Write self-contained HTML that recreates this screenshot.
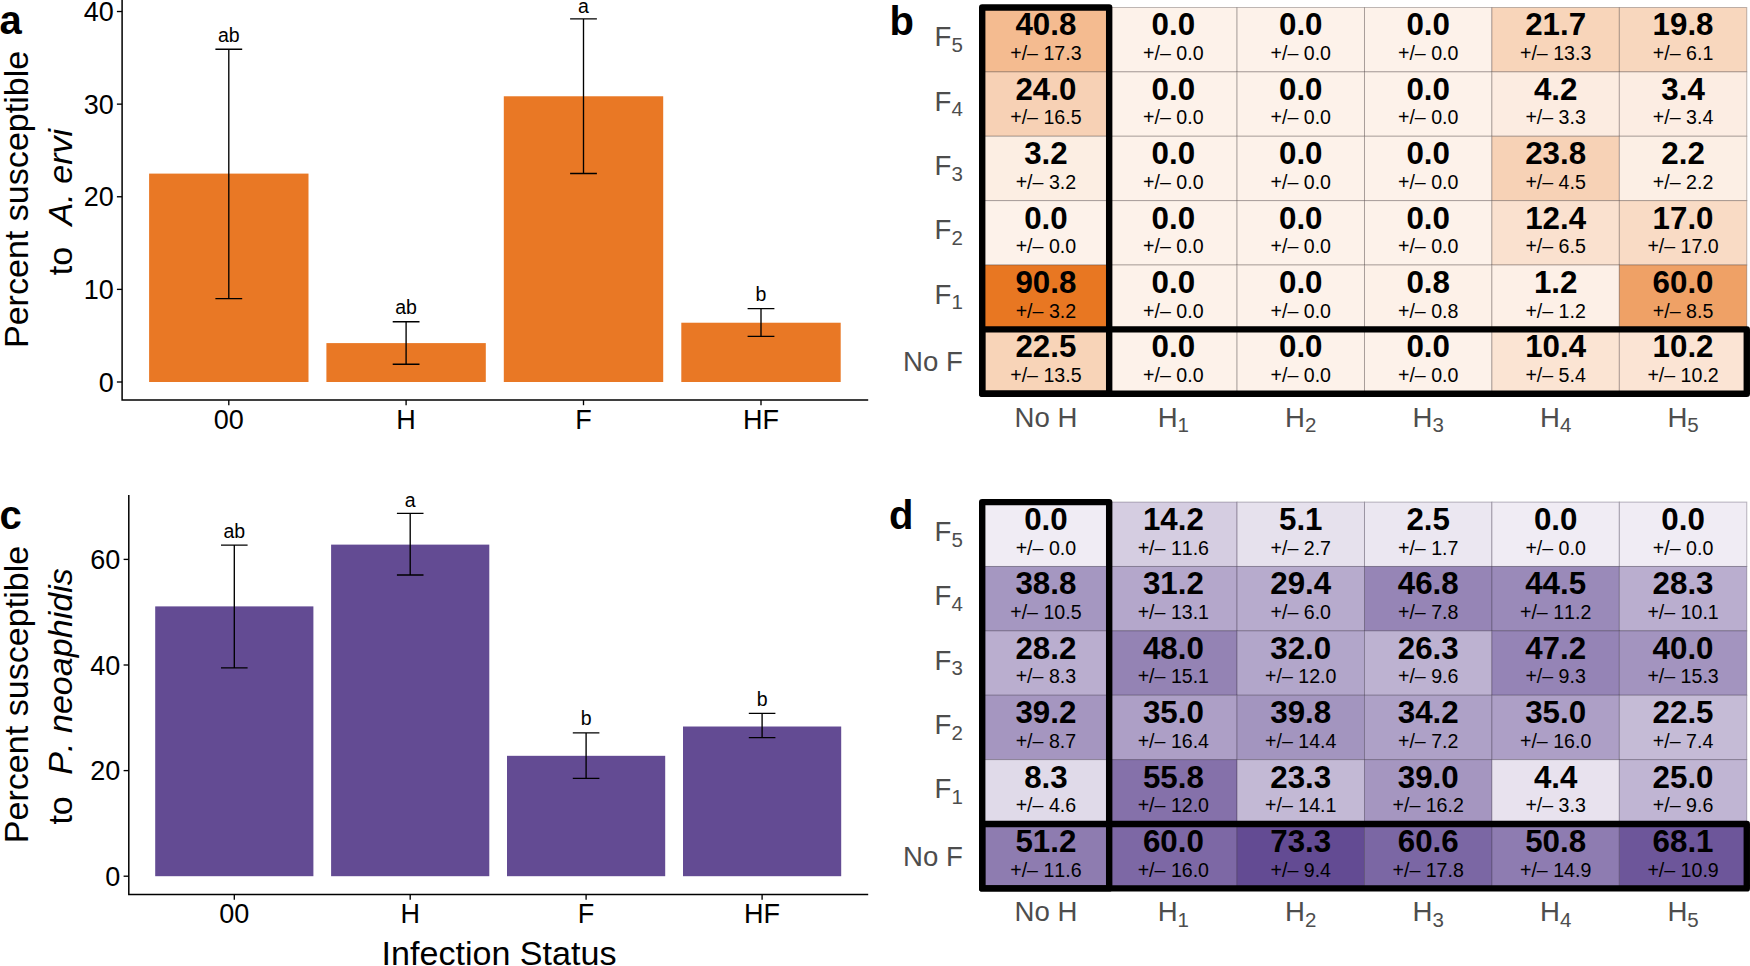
<!DOCTYPE html>
<html><head><meta charset="utf-8"><title>Figure</title>
<style>html,body{margin:0;padding:0;background:#fff;overflow:hidden}svg{display:block}text{font-family:"Liberation Sans", sans-serif;font-kerning:none}</style>
</head><body>
<svg width="1750" height="966" viewBox="0 0 1750 966">
<rect width="1750" height="966" fill="#fff"/>
<rect x="149.10" y="173.60" width="159.40" height="208.40" fill="#e97825"/>
<rect x="326.40" y="343.10" width="159.40" height="38.90" fill="#e97825"/>
<rect x="503.80" y="96.27" width="159.40" height="285.73" fill="#e97825"/>
<rect x="681.30" y="322.72" width="159.40" height="59.28" fill="#e97825"/>
<path d="M215.40 49.20H242.20M215.40 298.60H242.20M228.80 49.20V298.60" stroke="#000" stroke-width="1.35" fill="none"/>
<text x="228.80" y="41.80" font-size="19.5" text-anchor="middle">ab</text>
<path d="M392.70 321.70H419.50M392.70 364.20H419.50M406.10 321.70V364.20" stroke="#000" stroke-width="1.35" fill="none"/>
<text x="406.10" y="314.30" font-size="19.5" text-anchor="middle">ab</text>
<path d="M570.10 18.90H596.90M570.10 173.50H596.90M583.50 18.90V173.50" stroke="#000" stroke-width="1.35" fill="none"/>
<text x="583.50" y="12.50" font-size="19.5" text-anchor="middle">a</text>
<path d="M747.60 308.60H774.40M747.60 336.30H774.40M761.00 308.60V336.30" stroke="#000" stroke-width="1.35" fill="none"/>
<text x="761.00" y="301.20" font-size="19.5" text-anchor="middle">b</text>
<path d="M122.1 0V400.0H868.2" stroke="#000" stroke-width="1.5" fill="none"/>
<path d="M116.90 382.00H122.1" stroke="#000" stroke-width="1.35"/>
<text x="113.70" y="391.70" font-size="27" text-anchor="end">0</text>
<path d="M116.90 289.38H122.1" stroke="#000" stroke-width="1.35"/>
<text x="113.70" y="299.08" font-size="27" text-anchor="end">10</text>
<path d="M116.90 196.76H122.1" stroke="#000" stroke-width="1.35"/>
<text x="113.70" y="206.46" font-size="27" text-anchor="end">20</text>
<path d="M116.90 104.14H122.1" stroke="#000" stroke-width="1.35"/>
<text x="113.70" y="113.84" font-size="27" text-anchor="end">30</text>
<path d="M116.90 11.52H122.1" stroke="#000" stroke-width="1.35"/>
<text x="113.70" y="21.22" font-size="27" text-anchor="end">40</text>
<path d="M228.80 400.0V405.20" stroke="#000" stroke-width="1.35"/>
<text x="228.80" y="428.90" font-size="27" text-anchor="middle">00</text>
<path d="M406.10 400.0V405.20" stroke="#000" stroke-width="1.35"/>
<text x="406.10" y="428.90" font-size="27" text-anchor="middle">H</text>
<path d="M583.50 400.0V405.20" stroke="#000" stroke-width="1.35"/>
<text x="583.50" y="428.90" font-size="27" text-anchor="middle">F</text>
<path d="M761.00 400.0V405.20" stroke="#000" stroke-width="1.35"/>
<text x="761.00" y="428.90" font-size="27" text-anchor="middle">HF</text>
<rect x="155.20" y="606.39" width="158.20" height="269.81" fill="#634b93"/>
<rect x="331.10" y="544.62" width="158.20" height="331.58" fill="#634b93"/>
<rect x="507.00" y="755.82" width="158.20" height="120.38" fill="#634b93"/>
<rect x="683.00" y="726.51" width="158.20" height="149.69" fill="#634b93"/>
<path d="M221.00 545.10H247.60M221.00 667.80H247.60M234.30 545.10V667.80" stroke="#000" stroke-width="1.35" fill="none"/>
<text x="234.30" y="537.70" font-size="19.5" text-anchor="middle">ab</text>
<path d="M396.90 513.40H423.50M396.90 575.00H423.50M410.20 513.40V575.00" stroke="#000" stroke-width="1.35" fill="none"/>
<text x="410.20" y="507.00" font-size="19.5" text-anchor="middle">a</text>
<path d="M572.80 732.80H599.40M572.80 778.30H599.40M586.10 732.80V778.30" stroke="#000" stroke-width="1.35" fill="none"/>
<text x="586.10" y="725.40" font-size="19.5" text-anchor="middle">b</text>
<path d="M748.80 713.30H775.40M748.80 737.60H775.40M762.10 713.30V737.60" stroke="#000" stroke-width="1.35" fill="none"/>
<text x="762.10" y="705.90" font-size="19.5" text-anchor="middle">b</text>
<path d="M128.8 495V894.5H868.2" stroke="#000" stroke-width="1.5" fill="none"/>
<path d="M123.60 876.20H128.8" stroke="#000" stroke-width="1.35"/>
<text x="120.40" y="885.90" font-size="27" text-anchor="end">0</text>
<path d="M123.60 770.60H128.8" stroke="#000" stroke-width="1.35"/>
<text x="120.40" y="780.30" font-size="27" text-anchor="end">20</text>
<path d="M123.60 665.00H128.8" stroke="#000" stroke-width="1.35"/>
<text x="120.40" y="674.70" font-size="27" text-anchor="end">40</text>
<path d="M123.60 559.40H128.8" stroke="#000" stroke-width="1.35"/>
<text x="120.40" y="569.10" font-size="27" text-anchor="end">60</text>
<path d="M234.30 894.5V899.70" stroke="#000" stroke-width="1.35"/>
<text x="234.30" y="923.40" font-size="27" text-anchor="middle">00</text>
<path d="M410.20 894.5V899.70" stroke="#000" stroke-width="1.35"/>
<text x="410.20" y="923.40" font-size="27" text-anchor="middle">H</text>
<path d="M586.10 894.5V899.70" stroke="#000" stroke-width="1.35"/>
<text x="586.10" y="923.40" font-size="27" text-anchor="middle">F</text>
<path d="M762.10 894.5V899.70" stroke="#000" stroke-width="1.35"/>
<text x="762.10" y="923.40" font-size="27" text-anchor="middle">HF</text>
<text transform="translate(27.5 199.4) rotate(-90)" font-size="34.1" text-anchor="middle">Percent susceptible</text>
<text transform="translate(72.4 275.3) rotate(-90)" font-size="34.1" xml:space="preserve">to  <tspan font-style="italic" dx="2.5">A. ervi</tspan></text>
<text transform="translate(27.5 694.5) rotate(-90)" font-size="34.1" text-anchor="middle">Percent susceptible</text>
<text transform="translate(72.4 824.6) rotate(-90)" font-size="34.1" xml:space="preserve">to  <tspan font-style="italic" dx="2.5">P. neoaphidis</tspan></text>
<text x="499" y="965.2" font-size="34.1" text-anchor="middle">Infection Status</text>
<text x="-0.5" y="34.2" font-size="40" font-weight="bold">a</text>
<text x="889.5" y="34.7" font-size="40" font-weight="bold">b</text>
<text x="-0.5" y="529.2" font-size="40" font-weight="bold">c</text>
<text x="889" y="529.2" font-size="40" font-weight="bold">d</text>
<rect x="982.20" y="7.50" width="127.43" height="64.38" fill="#f4bb90" stroke="rgba(60,50,50,0.33)" stroke-width="1"/>
<rect x="1109.63" y="7.50" width="127.43" height="64.38" fill="#fdf2ea" stroke="rgba(60,50,50,0.33)" stroke-width="1"/>
<rect x="1237.06" y="7.50" width="127.43" height="64.38" fill="#fdf2ea" stroke="rgba(60,50,50,0.33)" stroke-width="1"/>
<rect x="1364.49" y="7.50" width="127.43" height="64.38" fill="#fdf2ea" stroke="rgba(60,50,50,0.33)" stroke-width="1"/>
<rect x="1491.92" y="7.50" width="127.43" height="64.38" fill="#f8d5ba" stroke="rgba(60,50,50,0.33)" stroke-width="1"/>
<rect x="1619.35" y="7.50" width="127.43" height="64.38" fill="#f8d7be" stroke="rgba(60,50,50,0.33)" stroke-width="1"/>
<rect x="982.20" y="71.88" width="127.43" height="64.38" fill="#f7d1b5" stroke="rgba(60,50,50,0.33)" stroke-width="1"/>
<rect x="1109.63" y="71.88" width="127.43" height="64.38" fill="#fdf2ea" stroke="rgba(60,50,50,0.33)" stroke-width="1"/>
<rect x="1237.06" y="71.88" width="127.43" height="64.38" fill="#fdf2ea" stroke="rgba(60,50,50,0.33)" stroke-width="1"/>
<rect x="1364.49" y="71.88" width="127.43" height="64.38" fill="#fdf2ea" stroke="rgba(60,50,50,0.33)" stroke-width="1"/>
<rect x="1491.92" y="71.88" width="127.43" height="64.38" fill="#fcece1" stroke="rgba(60,50,50,0.33)" stroke-width="1"/>
<rect x="1619.35" y="71.88" width="127.43" height="64.38" fill="#fcede3" stroke="rgba(60,50,50,0.33)" stroke-width="1"/>
<rect x="982.20" y="136.26" width="127.43" height="64.38" fill="#fceee3" stroke="rgba(60,50,50,0.33)" stroke-width="1"/>
<rect x="1109.63" y="136.26" width="127.43" height="64.38" fill="#fdf2ea" stroke="rgba(60,50,50,0.33)" stroke-width="1"/>
<rect x="1237.06" y="136.26" width="127.43" height="64.38" fill="#fdf2ea" stroke="rgba(60,50,50,0.33)" stroke-width="1"/>
<rect x="1364.49" y="136.26" width="127.43" height="64.38" fill="#fdf2ea" stroke="rgba(60,50,50,0.33)" stroke-width="1"/>
<rect x="1491.92" y="136.26" width="127.43" height="64.38" fill="#f7d2b6" stroke="rgba(60,50,50,0.33)" stroke-width="1"/>
<rect x="1619.35" y="136.26" width="127.43" height="64.38" fill="#fcefe5" stroke="rgba(60,50,50,0.33)" stroke-width="1"/>
<rect x="982.20" y="200.64" width="127.43" height="64.38" fill="#fdf2ea" stroke="rgba(60,50,50,0.33)" stroke-width="1"/>
<rect x="1109.63" y="200.64" width="127.43" height="64.38" fill="#fdf2ea" stroke="rgba(60,50,50,0.33)" stroke-width="1"/>
<rect x="1237.06" y="200.64" width="127.43" height="64.38" fill="#fdf2ea" stroke="rgba(60,50,50,0.33)" stroke-width="1"/>
<rect x="1364.49" y="200.64" width="127.43" height="64.38" fill="#fdf2ea" stroke="rgba(60,50,50,0.33)" stroke-width="1"/>
<rect x="1491.92" y="200.64" width="127.43" height="64.38" fill="#fae1cf" stroke="rgba(60,50,50,0.33)" stroke-width="1"/>
<rect x="1619.35" y="200.64" width="127.43" height="64.38" fill="#f9dbc5" stroke="rgba(60,50,50,0.33)" stroke-width="1"/>
<rect x="982.20" y="265.02" width="127.43" height="64.38" fill="#e87722" stroke="rgba(60,50,50,0.33)" stroke-width="1"/>
<rect x="1109.63" y="265.02" width="127.43" height="64.38" fill="#fdf2ea" stroke="rgba(60,50,50,0.33)" stroke-width="1"/>
<rect x="1237.06" y="265.02" width="127.43" height="64.38" fill="#fdf2ea" stroke="rgba(60,50,50,0.33)" stroke-width="1"/>
<rect x="1364.49" y="265.02" width="127.43" height="64.38" fill="#fdf1e8" stroke="rgba(60,50,50,0.33)" stroke-width="1"/>
<rect x="1491.92" y="265.02" width="127.43" height="64.38" fill="#fdf0e7" stroke="rgba(60,50,50,0.33)" stroke-width="1"/>
<rect x="1619.35" y="265.02" width="127.43" height="64.38" fill="#efa166" stroke="rgba(60,50,50,0.33)" stroke-width="1"/>
<rect x="982.20" y="329.40" width="127.43" height="64.38" fill="#f8d4b8" stroke="rgba(60,50,50,0.33)" stroke-width="1"/>
<rect x="1109.63" y="329.40" width="127.43" height="64.38" fill="#fdf2ea" stroke="rgba(60,50,50,0.33)" stroke-width="1"/>
<rect x="1237.06" y="329.40" width="127.43" height="64.38" fill="#fdf2ea" stroke="rgba(60,50,50,0.33)" stroke-width="1"/>
<rect x="1364.49" y="329.40" width="127.43" height="64.38" fill="#fdf2ea" stroke="rgba(60,50,50,0.33)" stroke-width="1"/>
<rect x="1491.92" y="329.40" width="127.43" height="64.38" fill="#fbe4d3" stroke="rgba(60,50,50,0.33)" stroke-width="1"/>
<rect x="1619.35" y="329.40" width="127.43" height="64.38" fill="#fbe4d4" stroke="rgba(60,50,50,0.33)" stroke-width="1"/>
<text x="1045.91" y="35.40" font-size="31.3" font-weight="bold" text-anchor="middle">40.8</text>
<text x="1045.91" y="60.00" font-size="19.6" text-anchor="middle">+/– 17.3</text>
<text x="1173.35" y="35.40" font-size="31.3" font-weight="bold" text-anchor="middle">0.0</text>
<text x="1173.35" y="60.00" font-size="19.6" text-anchor="middle">+/– 0.0</text>
<text x="1300.78" y="35.40" font-size="31.3" font-weight="bold" text-anchor="middle">0.0</text>
<text x="1300.78" y="60.00" font-size="19.6" text-anchor="middle">+/– 0.0</text>
<text x="1428.20" y="35.40" font-size="31.3" font-weight="bold" text-anchor="middle">0.0</text>
<text x="1428.20" y="60.00" font-size="19.6" text-anchor="middle">+/– 0.0</text>
<text x="1555.64" y="35.40" font-size="31.3" font-weight="bold" text-anchor="middle">21.7</text>
<text x="1555.64" y="60.00" font-size="19.6" text-anchor="middle">+/– 13.3</text>
<text x="1683.07" y="35.40" font-size="31.3" font-weight="bold" text-anchor="middle">19.8</text>
<text x="1683.07" y="60.00" font-size="19.6" text-anchor="middle">+/– 6.1</text>
<text x="1045.91" y="99.78" font-size="31.3" font-weight="bold" text-anchor="middle">24.0</text>
<text x="1045.91" y="124.38" font-size="19.6" text-anchor="middle">+/– 16.5</text>
<text x="1173.35" y="99.78" font-size="31.3" font-weight="bold" text-anchor="middle">0.0</text>
<text x="1173.35" y="124.38" font-size="19.6" text-anchor="middle">+/– 0.0</text>
<text x="1300.78" y="99.78" font-size="31.3" font-weight="bold" text-anchor="middle">0.0</text>
<text x="1300.78" y="124.38" font-size="19.6" text-anchor="middle">+/– 0.0</text>
<text x="1428.20" y="99.78" font-size="31.3" font-weight="bold" text-anchor="middle">0.0</text>
<text x="1428.20" y="124.38" font-size="19.6" text-anchor="middle">+/– 0.0</text>
<text x="1555.64" y="99.78" font-size="31.3" font-weight="bold" text-anchor="middle">4.2</text>
<text x="1555.64" y="124.38" font-size="19.6" text-anchor="middle">+/– 3.3</text>
<text x="1683.07" y="99.78" font-size="31.3" font-weight="bold" text-anchor="middle">3.4</text>
<text x="1683.07" y="124.38" font-size="19.6" text-anchor="middle">+/– 3.4</text>
<text x="1045.91" y="164.16" font-size="31.3" font-weight="bold" text-anchor="middle">3.2</text>
<text x="1045.91" y="188.76" font-size="19.6" text-anchor="middle">+/– 3.2</text>
<text x="1173.35" y="164.16" font-size="31.3" font-weight="bold" text-anchor="middle">0.0</text>
<text x="1173.35" y="188.76" font-size="19.6" text-anchor="middle">+/– 0.0</text>
<text x="1300.78" y="164.16" font-size="31.3" font-weight="bold" text-anchor="middle">0.0</text>
<text x="1300.78" y="188.76" font-size="19.6" text-anchor="middle">+/– 0.0</text>
<text x="1428.20" y="164.16" font-size="31.3" font-weight="bold" text-anchor="middle">0.0</text>
<text x="1428.20" y="188.76" font-size="19.6" text-anchor="middle">+/– 0.0</text>
<text x="1555.64" y="164.16" font-size="31.3" font-weight="bold" text-anchor="middle">23.8</text>
<text x="1555.64" y="188.76" font-size="19.6" text-anchor="middle">+/– 4.5</text>
<text x="1683.07" y="164.16" font-size="31.3" font-weight="bold" text-anchor="middle">2.2</text>
<text x="1683.07" y="188.76" font-size="19.6" text-anchor="middle">+/– 2.2</text>
<text x="1045.91" y="228.54" font-size="31.3" font-weight="bold" text-anchor="middle">0.0</text>
<text x="1045.91" y="253.14" font-size="19.6" text-anchor="middle">+/– 0.0</text>
<text x="1173.35" y="228.54" font-size="31.3" font-weight="bold" text-anchor="middle">0.0</text>
<text x="1173.35" y="253.14" font-size="19.6" text-anchor="middle">+/– 0.0</text>
<text x="1300.78" y="228.54" font-size="31.3" font-weight="bold" text-anchor="middle">0.0</text>
<text x="1300.78" y="253.14" font-size="19.6" text-anchor="middle">+/– 0.0</text>
<text x="1428.20" y="228.54" font-size="31.3" font-weight="bold" text-anchor="middle">0.0</text>
<text x="1428.20" y="253.14" font-size="19.6" text-anchor="middle">+/– 0.0</text>
<text x="1555.64" y="228.54" font-size="31.3" font-weight="bold" text-anchor="middle">12.4</text>
<text x="1555.64" y="253.14" font-size="19.6" text-anchor="middle">+/– 6.5</text>
<text x="1683.07" y="228.54" font-size="31.3" font-weight="bold" text-anchor="middle">17.0</text>
<text x="1683.07" y="253.14" font-size="19.6" text-anchor="middle">+/– 17.0</text>
<text x="1045.91" y="292.92" font-size="31.3" font-weight="bold" text-anchor="middle">90.8</text>
<text x="1045.91" y="317.52" font-size="19.6" text-anchor="middle">+/– 3.2</text>
<text x="1173.35" y="292.92" font-size="31.3" font-weight="bold" text-anchor="middle">0.0</text>
<text x="1173.35" y="317.52" font-size="19.6" text-anchor="middle">+/– 0.0</text>
<text x="1300.78" y="292.92" font-size="31.3" font-weight="bold" text-anchor="middle">0.0</text>
<text x="1300.78" y="317.52" font-size="19.6" text-anchor="middle">+/– 0.0</text>
<text x="1428.20" y="292.92" font-size="31.3" font-weight="bold" text-anchor="middle">0.8</text>
<text x="1428.20" y="317.52" font-size="19.6" text-anchor="middle">+/– 0.8</text>
<text x="1555.64" y="292.92" font-size="31.3" font-weight="bold" text-anchor="middle">1.2</text>
<text x="1555.64" y="317.52" font-size="19.6" text-anchor="middle">+/– 1.2</text>
<text x="1683.07" y="292.92" font-size="31.3" font-weight="bold" text-anchor="middle">60.0</text>
<text x="1683.07" y="317.52" font-size="19.6" text-anchor="middle">+/– 8.5</text>
<text x="1045.91" y="357.30" font-size="31.3" font-weight="bold" text-anchor="middle">22.5</text>
<text x="1045.91" y="381.90" font-size="19.6" text-anchor="middle">+/– 13.5</text>
<text x="1173.35" y="357.30" font-size="31.3" font-weight="bold" text-anchor="middle">0.0</text>
<text x="1173.35" y="381.90" font-size="19.6" text-anchor="middle">+/– 0.0</text>
<text x="1300.78" y="357.30" font-size="31.3" font-weight="bold" text-anchor="middle">0.0</text>
<text x="1300.78" y="381.90" font-size="19.6" text-anchor="middle">+/– 0.0</text>
<text x="1428.20" y="357.30" font-size="31.3" font-weight="bold" text-anchor="middle">0.0</text>
<text x="1428.20" y="381.90" font-size="19.6" text-anchor="middle">+/– 0.0</text>
<text x="1555.64" y="357.30" font-size="31.3" font-weight="bold" text-anchor="middle">10.4</text>
<text x="1555.64" y="381.90" font-size="19.6" text-anchor="middle">+/– 5.4</text>
<text x="1683.07" y="357.30" font-size="31.3" font-weight="bold" text-anchor="middle">10.2</text>
<text x="1683.07" y="381.90" font-size="19.6" text-anchor="middle">+/– 10.2</text>
<rect x="982.20" y="7.50" width="126.98" height="386.28" fill="none" stroke="#000" stroke-width="6.4" stroke-linejoin="round"/>
<rect x="982.20" y="329.40" width="764.58" height="64.38" fill="none" stroke="#000" stroke-width="6.4" stroke-linejoin="round"/>
<text x="962.8" y="46.30" font-size="27.6" fill="#4d4d4d" text-anchor="end">F<tspan font-size="20.5" dy="5.6">5</tspan></text>
<text x="962.8" y="110.68" font-size="27.6" fill="#4d4d4d" text-anchor="end">F<tspan font-size="20.5" dy="5.6">4</tspan></text>
<text x="962.8" y="175.06" font-size="27.6" fill="#4d4d4d" text-anchor="end">F<tspan font-size="20.5" dy="5.6">3</tspan></text>
<text x="962.8" y="239.44" font-size="27.6" fill="#4d4d4d" text-anchor="end">F<tspan font-size="20.5" dy="5.6">2</tspan></text>
<text x="962.8" y="303.82" font-size="27.6" fill="#4d4d4d" text-anchor="end">F<tspan font-size="20.5" dy="5.6">1</tspan></text>
<text x="962.8" y="371.40" font-size="27.6" fill="#4d4d4d" text-anchor="end">No F</text>
<text x="1045.91" y="426.78" font-size="27.6" fill="#4d4d4d" text-anchor="middle">No H</text>
<text x="1173.35" y="426.78" font-size="27.6" fill="#4d4d4d" text-anchor="middle">H<tspan font-size="20.5" dy="5.6">1</tspan></text>
<text x="1300.78" y="426.78" font-size="27.6" fill="#4d4d4d" text-anchor="middle">H<tspan font-size="20.5" dy="5.6">2</tspan></text>
<text x="1428.20" y="426.78" font-size="27.6" fill="#4d4d4d" text-anchor="middle">H<tspan font-size="20.5" dy="5.6">3</tspan></text>
<text x="1555.64" y="426.78" font-size="27.6" fill="#4d4d4d" text-anchor="middle">H<tspan font-size="20.5" dy="5.6">4</tspan></text>
<text x="1683.07" y="426.78" font-size="27.6" fill="#4d4d4d" text-anchor="middle">H<tspan font-size="20.5" dy="5.6">5</tspan></text>
<rect x="982.20" y="502.10" width="127.43" height="64.38" fill="#f0ecf4" stroke="rgba(50,40,60,0.33)" stroke-width="1"/>
<rect x="1109.63" y="502.10" width="127.43" height="64.38" fill="#d5cde1" stroke="rgba(50,40,60,0.33)" stroke-width="1"/>
<rect x="1237.06" y="502.10" width="127.43" height="64.38" fill="#e6e1ed" stroke="rgba(50,40,60,0.33)" stroke-width="1"/>
<rect x="1364.49" y="502.10" width="127.43" height="64.38" fill="#ebe7f1" stroke="rgba(50,40,60,0.33)" stroke-width="1"/>
<rect x="1491.92" y="502.10" width="127.43" height="64.38" fill="#f0ecf4" stroke="rgba(50,40,60,0.33)" stroke-width="1"/>
<rect x="1619.35" y="502.10" width="127.43" height="64.38" fill="#f0ecf4" stroke="rgba(50,40,60,0.33)" stroke-width="1"/>
<rect x="982.20" y="566.48" width="127.43" height="64.38" fill="#a597c1" stroke="rgba(50,40,60,0.33)" stroke-width="1"/>
<rect x="1109.63" y="566.48" width="127.43" height="64.38" fill="#b4a7cb" stroke="rgba(50,40,60,0.33)" stroke-width="1"/>
<rect x="1237.06" y="566.48" width="127.43" height="64.38" fill="#b7abcd" stroke="rgba(50,40,60,0.33)" stroke-width="1"/>
<rect x="1364.49" y="566.48" width="127.43" height="64.38" fill="#9685b6" stroke="rgba(50,40,60,0.33)" stroke-width="1"/>
<rect x="1491.92" y="566.48" width="127.43" height="64.38" fill="#9a8ab9" stroke="rgba(50,40,60,0.33)" stroke-width="1"/>
<rect x="1619.35" y="566.48" width="127.43" height="64.38" fill="#baaecf" stroke="rgba(50,40,60,0.33)" stroke-width="1"/>
<rect x="982.20" y="630.86" width="127.43" height="64.38" fill="#baaecf" stroke="rgba(50,40,60,0.33)" stroke-width="1"/>
<rect x="1109.63" y="630.86" width="127.43" height="64.38" fill="#9483b4" stroke="rgba(50,40,60,0.33)" stroke-width="1"/>
<rect x="1237.06" y="630.86" width="127.43" height="64.38" fill="#b2a6ca" stroke="rgba(50,40,60,0.33)" stroke-width="1"/>
<rect x="1364.49" y="630.86" width="127.43" height="64.38" fill="#bdb2d1" stroke="rgba(50,40,60,0.33)" stroke-width="1"/>
<rect x="1491.92" y="630.86" width="127.43" height="64.38" fill="#9584b6" stroke="rgba(50,40,60,0.33)" stroke-width="1"/>
<rect x="1619.35" y="630.86" width="127.43" height="64.38" fill="#a394bf" stroke="rgba(50,40,60,0.33)" stroke-width="1"/>
<rect x="982.20" y="695.24" width="127.43" height="64.38" fill="#a596c0" stroke="rgba(50,40,60,0.33)" stroke-width="1"/>
<rect x="1109.63" y="695.24" width="127.43" height="64.38" fill="#ad9fc6" stroke="rgba(50,40,60,0.33)" stroke-width="1"/>
<rect x="1237.06" y="695.24" width="127.43" height="64.38" fill="#a395bf" stroke="rgba(50,40,60,0.33)" stroke-width="1"/>
<rect x="1364.49" y="695.24" width="127.43" height="64.38" fill="#aea1c7" stroke="rgba(50,40,60,0.33)" stroke-width="1"/>
<rect x="1491.92" y="695.24" width="127.43" height="64.38" fill="#ad9fc6" stroke="rgba(50,40,60,0.33)" stroke-width="1"/>
<rect x="1619.35" y="695.24" width="127.43" height="64.38" fill="#c5bbd6" stroke="rgba(50,40,60,0.33)" stroke-width="1"/>
<rect x="982.20" y="759.62" width="127.43" height="64.38" fill="#e0dae9" stroke="rgba(50,40,60,0.33)" stroke-width="1"/>
<rect x="1109.63" y="759.62" width="127.43" height="64.38" fill="#8571aa" stroke="rgba(50,40,60,0.33)" stroke-width="1"/>
<rect x="1237.06" y="759.62" width="127.43" height="64.38" fill="#c3b9d5" stroke="rgba(50,40,60,0.33)" stroke-width="1"/>
<rect x="1364.49" y="759.62" width="127.43" height="64.38" fill="#a596c0" stroke="rgba(50,40,60,0.33)" stroke-width="1"/>
<rect x="1491.92" y="759.62" width="127.43" height="64.38" fill="#e8e2ee" stroke="rgba(50,40,60,0.33)" stroke-width="1"/>
<rect x="1619.35" y="759.62" width="127.43" height="64.38" fill="#c0b5d3" stroke="rgba(50,40,60,0.33)" stroke-width="1"/>
<rect x="982.20" y="824.00" width="127.43" height="64.38" fill="#8e7cb0" stroke="rgba(50,40,60,0.33)" stroke-width="1"/>
<rect x="1109.63" y="824.00" width="127.43" height="64.38" fill="#7d68a5" stroke="rgba(50,40,60,0.33)" stroke-width="1"/>
<rect x="1237.06" y="824.00" width="127.43" height="64.38" fill="#634b93" stroke="rgba(50,40,60,0.33)" stroke-width="1"/>
<rect x="1364.49" y="824.00" width="127.43" height="64.38" fill="#7b67a4" stroke="rgba(50,40,60,0.33)" stroke-width="1"/>
<rect x="1491.92" y="824.00" width="127.43" height="64.38" fill="#8e7cb1" stroke="rgba(50,40,60,0.33)" stroke-width="1"/>
<rect x="1619.35" y="824.00" width="127.43" height="64.38" fill="#6d569a" stroke="rgba(50,40,60,0.33)" stroke-width="1"/>
<text x="1045.91" y="530.00" font-size="31.3" font-weight="bold" text-anchor="middle">0.0</text>
<text x="1045.91" y="554.60" font-size="19.6" text-anchor="middle">+/– 0.0</text>
<text x="1173.35" y="530.00" font-size="31.3" font-weight="bold" text-anchor="middle">14.2</text>
<text x="1173.35" y="554.60" font-size="19.6" text-anchor="middle">+/– 11.6</text>
<text x="1300.78" y="530.00" font-size="31.3" font-weight="bold" text-anchor="middle">5.1</text>
<text x="1300.78" y="554.60" font-size="19.6" text-anchor="middle">+/– 2.7</text>
<text x="1428.20" y="530.00" font-size="31.3" font-weight="bold" text-anchor="middle">2.5</text>
<text x="1428.20" y="554.60" font-size="19.6" text-anchor="middle">+/– 1.7</text>
<text x="1555.64" y="530.00" font-size="31.3" font-weight="bold" text-anchor="middle">0.0</text>
<text x="1555.64" y="554.60" font-size="19.6" text-anchor="middle">+/– 0.0</text>
<text x="1683.07" y="530.00" font-size="31.3" font-weight="bold" text-anchor="middle">0.0</text>
<text x="1683.07" y="554.60" font-size="19.6" text-anchor="middle">+/– 0.0</text>
<text x="1045.91" y="594.38" font-size="31.3" font-weight="bold" text-anchor="middle">38.8</text>
<text x="1045.91" y="618.98" font-size="19.6" text-anchor="middle">+/– 10.5</text>
<text x="1173.35" y="594.38" font-size="31.3" font-weight="bold" text-anchor="middle">31.2</text>
<text x="1173.35" y="618.98" font-size="19.6" text-anchor="middle">+/– 13.1</text>
<text x="1300.78" y="594.38" font-size="31.3" font-weight="bold" text-anchor="middle">29.4</text>
<text x="1300.78" y="618.98" font-size="19.6" text-anchor="middle">+/– 6.0</text>
<text x="1428.20" y="594.38" font-size="31.3" font-weight="bold" text-anchor="middle">46.8</text>
<text x="1428.20" y="618.98" font-size="19.6" text-anchor="middle">+/– 7.8</text>
<text x="1555.64" y="594.38" font-size="31.3" font-weight="bold" text-anchor="middle">44.5</text>
<text x="1555.64" y="618.98" font-size="19.6" text-anchor="middle">+/– 11.2</text>
<text x="1683.07" y="594.38" font-size="31.3" font-weight="bold" text-anchor="middle">28.3</text>
<text x="1683.07" y="618.98" font-size="19.6" text-anchor="middle">+/– 10.1</text>
<text x="1045.91" y="658.76" font-size="31.3" font-weight="bold" text-anchor="middle">28.2</text>
<text x="1045.91" y="683.36" font-size="19.6" text-anchor="middle">+/– 8.3</text>
<text x="1173.35" y="658.76" font-size="31.3" font-weight="bold" text-anchor="middle">48.0</text>
<text x="1173.35" y="683.36" font-size="19.6" text-anchor="middle">+/– 15.1</text>
<text x="1300.78" y="658.76" font-size="31.3" font-weight="bold" text-anchor="middle">32.0</text>
<text x="1300.78" y="683.36" font-size="19.6" text-anchor="middle">+/– 12.0</text>
<text x="1428.20" y="658.76" font-size="31.3" font-weight="bold" text-anchor="middle">26.3</text>
<text x="1428.20" y="683.36" font-size="19.6" text-anchor="middle">+/– 9.6</text>
<text x="1555.64" y="658.76" font-size="31.3" font-weight="bold" text-anchor="middle">47.2</text>
<text x="1555.64" y="683.36" font-size="19.6" text-anchor="middle">+/– 9.3</text>
<text x="1683.07" y="658.76" font-size="31.3" font-weight="bold" text-anchor="middle">40.0</text>
<text x="1683.07" y="683.36" font-size="19.6" text-anchor="middle">+/– 15.3</text>
<text x="1045.91" y="723.14" font-size="31.3" font-weight="bold" text-anchor="middle">39.2</text>
<text x="1045.91" y="747.74" font-size="19.6" text-anchor="middle">+/– 8.7</text>
<text x="1173.35" y="723.14" font-size="31.3" font-weight="bold" text-anchor="middle">35.0</text>
<text x="1173.35" y="747.74" font-size="19.6" text-anchor="middle">+/– 16.4</text>
<text x="1300.78" y="723.14" font-size="31.3" font-weight="bold" text-anchor="middle">39.8</text>
<text x="1300.78" y="747.74" font-size="19.6" text-anchor="middle">+/– 14.4</text>
<text x="1428.20" y="723.14" font-size="31.3" font-weight="bold" text-anchor="middle">34.2</text>
<text x="1428.20" y="747.74" font-size="19.6" text-anchor="middle">+/– 7.2</text>
<text x="1555.64" y="723.14" font-size="31.3" font-weight="bold" text-anchor="middle">35.0</text>
<text x="1555.64" y="747.74" font-size="19.6" text-anchor="middle">+/– 16.0</text>
<text x="1683.07" y="723.14" font-size="31.3" font-weight="bold" text-anchor="middle">22.5</text>
<text x="1683.07" y="747.74" font-size="19.6" text-anchor="middle">+/– 7.4</text>
<text x="1045.91" y="787.52" font-size="31.3" font-weight="bold" text-anchor="middle">8.3</text>
<text x="1045.91" y="812.12" font-size="19.6" text-anchor="middle">+/– 4.6</text>
<text x="1173.35" y="787.52" font-size="31.3" font-weight="bold" text-anchor="middle">55.8</text>
<text x="1173.35" y="812.12" font-size="19.6" text-anchor="middle">+/– 12.0</text>
<text x="1300.78" y="787.52" font-size="31.3" font-weight="bold" text-anchor="middle">23.3</text>
<text x="1300.78" y="812.12" font-size="19.6" text-anchor="middle">+/– 14.1</text>
<text x="1428.20" y="787.52" font-size="31.3" font-weight="bold" text-anchor="middle">39.0</text>
<text x="1428.20" y="812.12" font-size="19.6" text-anchor="middle">+/– 16.2</text>
<text x="1555.64" y="787.52" font-size="31.3" font-weight="bold" text-anchor="middle">4.4</text>
<text x="1555.64" y="812.12" font-size="19.6" text-anchor="middle">+/– 3.3</text>
<text x="1683.07" y="787.52" font-size="31.3" font-weight="bold" text-anchor="middle">25.0</text>
<text x="1683.07" y="812.12" font-size="19.6" text-anchor="middle">+/– 9.6</text>
<text x="1045.91" y="851.90" font-size="31.3" font-weight="bold" text-anchor="middle">51.2</text>
<text x="1045.91" y="876.50" font-size="19.6" text-anchor="middle">+/– 11.6</text>
<text x="1173.35" y="851.90" font-size="31.3" font-weight="bold" text-anchor="middle">60.0</text>
<text x="1173.35" y="876.50" font-size="19.6" text-anchor="middle">+/– 16.0</text>
<text x="1300.78" y="851.90" font-size="31.3" font-weight="bold" text-anchor="middle">73.3</text>
<text x="1300.78" y="876.50" font-size="19.6" text-anchor="middle">+/– 9.4</text>
<text x="1428.20" y="851.90" font-size="31.3" font-weight="bold" text-anchor="middle">60.6</text>
<text x="1428.20" y="876.50" font-size="19.6" text-anchor="middle">+/– 17.8</text>
<text x="1555.64" y="851.90" font-size="31.3" font-weight="bold" text-anchor="middle">50.8</text>
<text x="1555.64" y="876.50" font-size="19.6" text-anchor="middle">+/– 14.9</text>
<text x="1683.07" y="851.90" font-size="31.3" font-weight="bold" text-anchor="middle">68.1</text>
<text x="1683.07" y="876.50" font-size="19.6" text-anchor="middle">+/– 10.9</text>
<rect x="982.20" y="502.10" width="126.98" height="386.28" fill="none" stroke="#000" stroke-width="6.4" stroke-linejoin="round"/>
<rect x="982.20" y="824.00" width="764.58" height="64.38" fill="none" stroke="#000" stroke-width="6.4" stroke-linejoin="round"/>
<text x="962.8" y="540.90" font-size="27.6" fill="#4d4d4d" text-anchor="end">F<tspan font-size="20.5" dy="5.6">5</tspan></text>
<text x="962.8" y="605.28" font-size="27.6" fill="#4d4d4d" text-anchor="end">F<tspan font-size="20.5" dy="5.6">4</tspan></text>
<text x="962.8" y="669.66" font-size="27.6" fill="#4d4d4d" text-anchor="end">F<tspan font-size="20.5" dy="5.6">3</tspan></text>
<text x="962.8" y="734.04" font-size="27.6" fill="#4d4d4d" text-anchor="end">F<tspan font-size="20.5" dy="5.6">2</tspan></text>
<text x="962.8" y="798.42" font-size="27.6" fill="#4d4d4d" text-anchor="end">F<tspan font-size="20.5" dy="5.6">1</tspan></text>
<text x="962.8" y="866.00" font-size="27.6" fill="#4d4d4d" text-anchor="end">No F</text>
<text x="1045.91" y="921.38" font-size="27.6" fill="#4d4d4d" text-anchor="middle">No H</text>
<text x="1173.35" y="921.38" font-size="27.6" fill="#4d4d4d" text-anchor="middle">H<tspan font-size="20.5" dy="5.6">1</tspan></text>
<text x="1300.78" y="921.38" font-size="27.6" fill="#4d4d4d" text-anchor="middle">H<tspan font-size="20.5" dy="5.6">2</tspan></text>
<text x="1428.20" y="921.38" font-size="27.6" fill="#4d4d4d" text-anchor="middle">H<tspan font-size="20.5" dy="5.6">3</tspan></text>
<text x="1555.64" y="921.38" font-size="27.6" fill="#4d4d4d" text-anchor="middle">H<tspan font-size="20.5" dy="5.6">4</tspan></text>
<text x="1683.07" y="921.38" font-size="27.6" fill="#4d4d4d" text-anchor="middle">H<tspan font-size="20.5" dy="5.6">5</tspan></text>
</svg>
</body></html>
